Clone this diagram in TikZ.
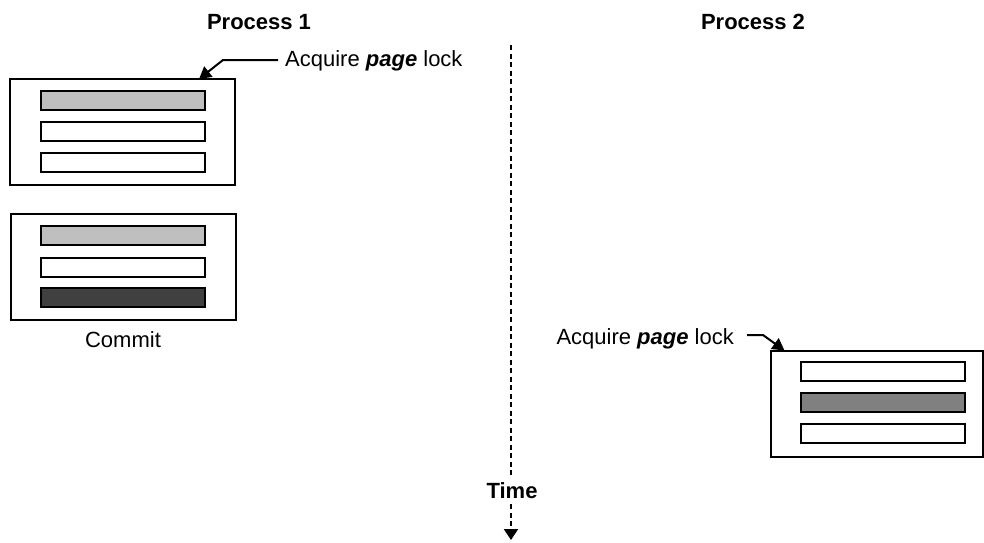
\documentclass[tikz,border=0pt]{standalone}
\usepackage{fontspec}
\setmainfont{Liberation Sans}
\usetikzlibrary{arrows.meta}
\begin{document}
\begin{tikzpicture}[x=1pt,y=-1pt,
  pagebox/.style={draw=black,line width=2pt,fill=white,inner sep=0pt,minimum width=225pt,minimum height=106pt},
  rowbar/.style={draw=black,line width=2pt,inner sep=0pt,minimum width=164pt,minimum height=19pt},
  lbl/.style={font=\fontsize{22}{26}\selectfont,inner sep=0pt},
  hdr/.style={font=\bfseries\fontsize{22}{26}\selectfont,inner sep=0pt},
  ptr/.style={line width=2pt,-{Triangle[width=13pt,length=12pt]}}]
\useasboundingbox (0,0) rectangle (984,542);

% headings
\node[hdr] (p1) at (259,22) {Process 1};
\node[hdr] (p2) at (753,22) {Process 2};

% time axis
\node[hdr] (time) at (512,491) {Time};
\coordinate (ttop) at (511,45);
\coordinate (tend) at (511,540);
\draw[line width=2pt,dash pattern=on 5pt off 3.5pt] (ttop) -- ([yshift=5pt]time.north -| ttop);
\draw[line width=2pt,dash pattern=on 5pt off 3.5pt,-{Triangle[width=14pt,length=11pt]}] ([yshift=-5pt]time.south -| ttop) -- (tend);

% process 1, first page
\node[pagebox] (pg1) at (122.5,132) {};
\node[rowbar,fill=black!25] (a1) at (122.5,100.5) {};
\node[rowbar,fill=white] (a2) at (122.5,131.5) {};
\node[rowbar,fill=white] (a3) at (122.5,162.5) {};

% process 1, committed page
\node[pagebox] (pg2) at (123,266.5) {};
\node[rowbar,fill=black!25] (b1) at (123,235) {};
\node[rowbar,fill=white] (b2) at (123,267) {};
\node[rowbar,fill=black!75] (b3) at (123,297.5) {};
\node[lbl] (commit) at (123,340) {Commit};

% process 2, page
\node[pagebox,minimum width=212pt] (pg3) at (876.5,403.5) {};
\node[rowbar,fill=white] (c1) at (883,371) {};
\node[rowbar,fill=black!50] (c2) at (883,402) {};
\node[rowbar,fill=white] (c3) at (883,433) {};

% lock annotations
\node[lbl,anchor=west] (lk1) at (285,61) {Acquire \textbf{\textit{page}} lock};
\coordinate (k1) at (223,60);
\draw[ptr] ([xshift=-7pt,yshift=1pt]lk1.west) -- (k1) -- ([xshift=190pt,yshift=-1pt]pg1.north west);

\node[lbl,anchor=east] (lk2) at (734,339) {Acquire \textbf{\textit{page}} lock};
\coordinate (k2) at (763,335);
\draw[ptr] ([xshift=13pt,yshift=4pt]lk2.east) -- (k2) -- ([xshift=15pt,yshift=-1pt]pg3.north west);
\end{tikzpicture}
\end{document}
